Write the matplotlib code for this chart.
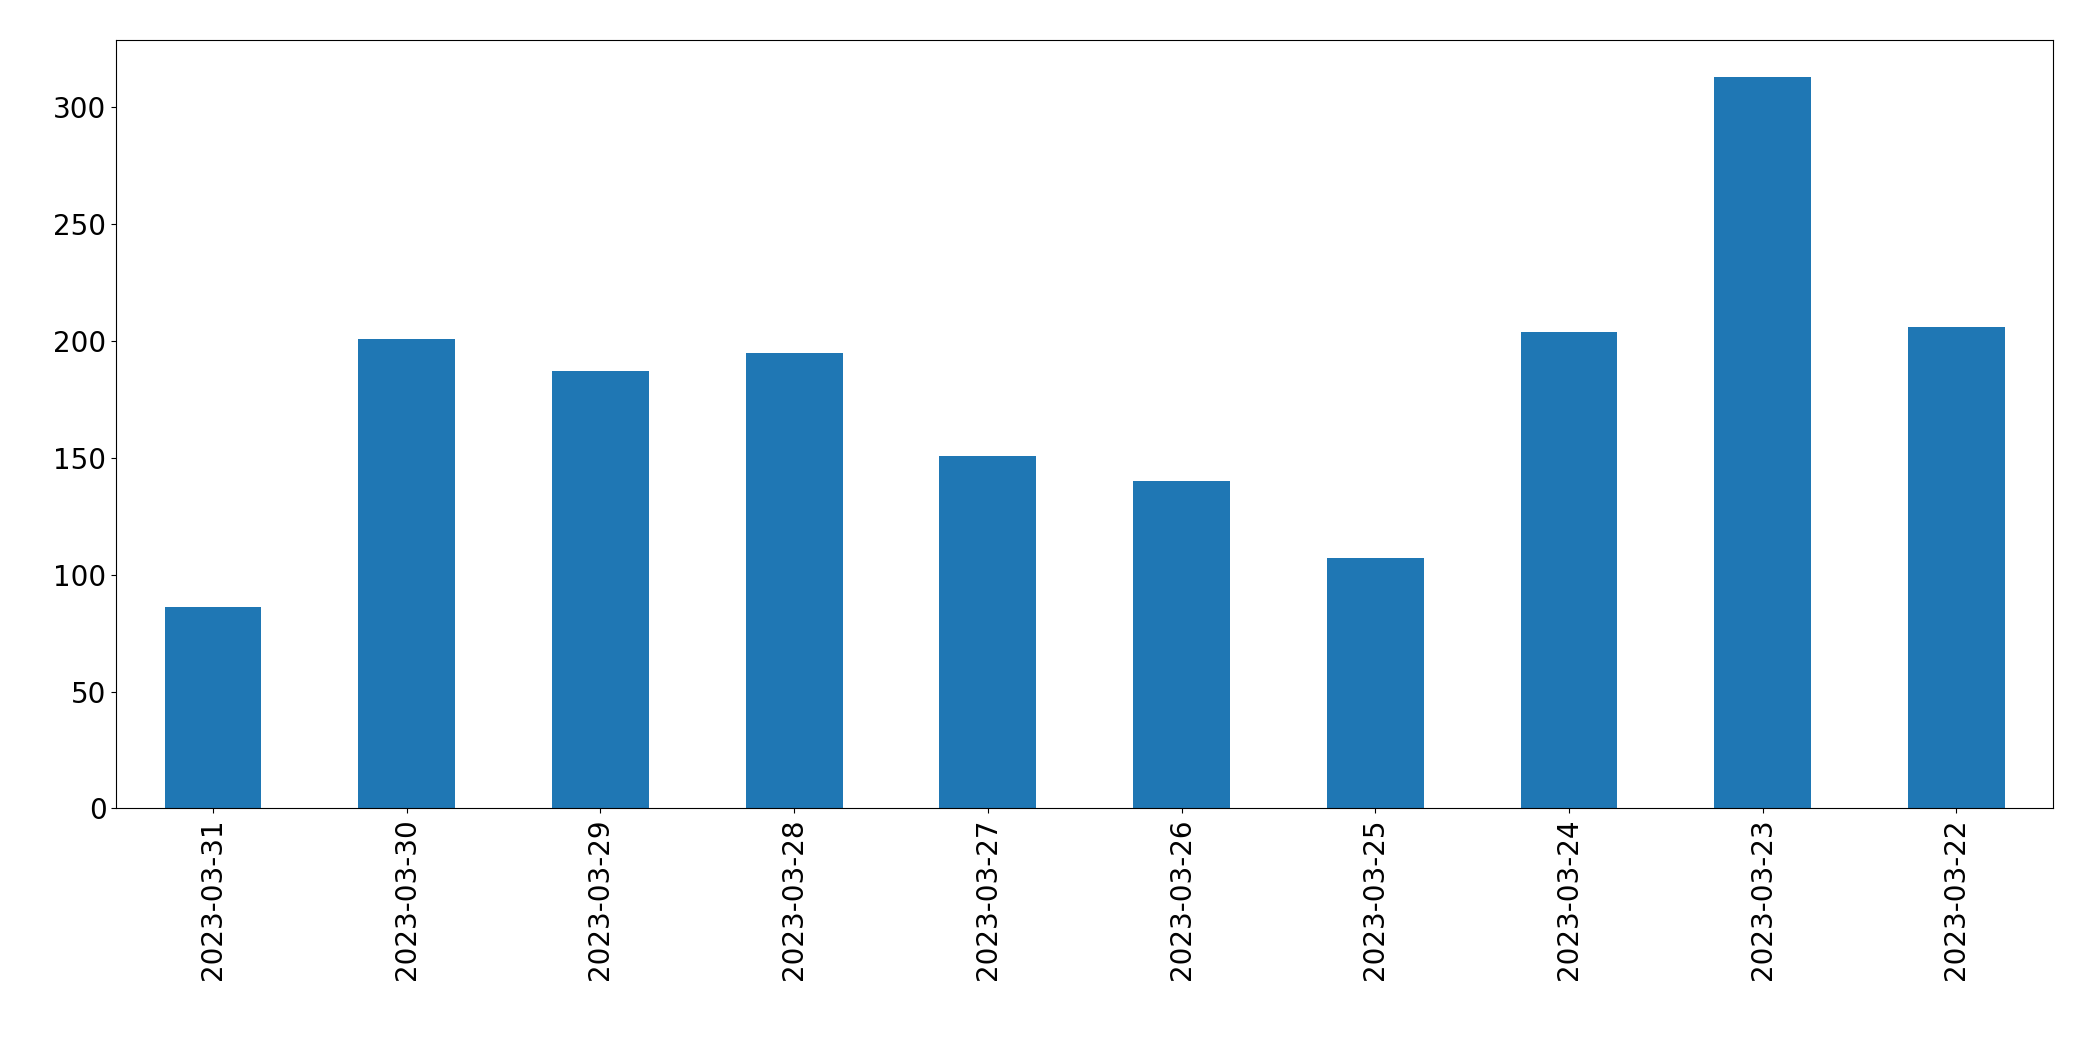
import matplotlib
matplotlib.use("Agg")
import matplotlib.pyplot as plt

dates = ["2023-03-31","2023-03-30","2023-03-29","2023-03-28","2023-03-27",
         "2023-03-26","2023-03-25","2023-03-24","2023-03-23","2023-03-22"]
values = [86, 201, 187, 195, 151, 140, 107, 204, 313, 206]

fig = plt.figure(figsize=(20.93, 10.61), dpi=100)
ax = fig.add_axes([0.0555, 0.238, 0.9255, 0.724])
x = range(len(dates))
ax.bar(x, values, width=0.5, color="#1f77b4")
ax.set_xlim(-0.5, len(dates) - 0.5)
ax.set_xticks(list(x))
ax.set_xticklabels(dates, rotation=90)
ax.tick_params(labelsize=20)
fig.savefig("out.png", dpi=100)
